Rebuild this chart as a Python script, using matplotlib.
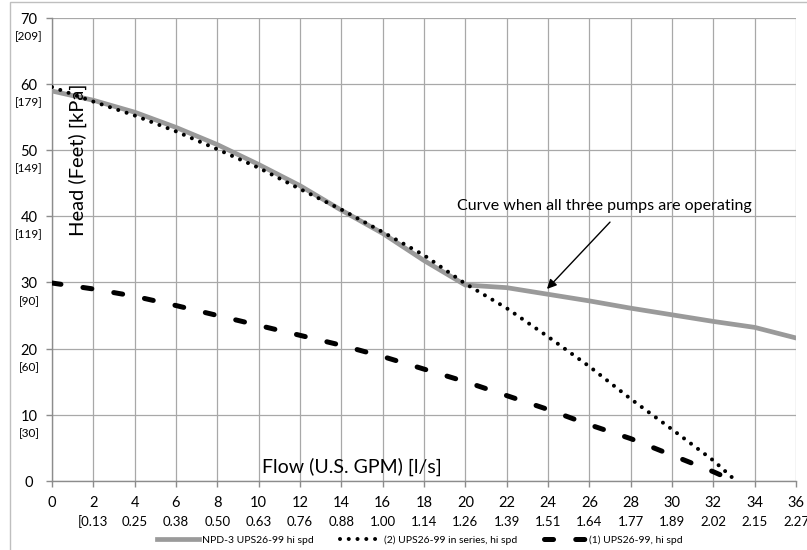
import matplotlib
matplotlib.use("Agg")
import matplotlib.pyplot as plt
from matplotlib.patches import Rectangle

plt.rcParams['font.family'] = ['Lato', 'DejaVu Sans']
plt.rcParams['lines.scale_dashes'] = False

# ---- data ----
flow_ticks = [0, 2, 4, 6, 8, 10, 12, 14, 16, 18, 20, 22, 24, 26, 28, 30, 32, 34, 36]
flow_ls_labels = ["", "[0.13", "0.25", "0.38", "0.50", "0.63", "0.76", "0.88", "1.00",
                  "1.14", "1.26", "1.39", "1.51", "1.64", "1.77", "1.89", "2.02", "2.15", "2.27"]
head_ticks = [0, 10, 20, 30, 40, 50, 60, 70]
head_kpa_labels = ["", "[30]", "[60]", "[90]", "[119]", "[149]", "[179]", "[209]"]

npd3_flow = [0, 2, 4, 6, 8, 10, 12, 14, 16, 18, 20, 22, 24, 26, 28, 30, 32, 34, 36]
npd3_head = [58.9, 57.5, 55.7, 53.4, 50.8, 47.8, 44.6, 40.9, 37.4, 33.3, 29.6,
             29.2, 28.2, 27.2, 26.1, 25.1, 24.1, 23.2, 21.6]

series2_flow = [0, 2, 4, 6, 8, 10, 12, 14, 16, 18, 20, 22, 24, 26, 28, 30, 32, 33.1]
series2_head = [59.5, 57.3, 55.2, 52.8, 50.1, 47.3, 44.1, 41.0, 37.6, 34.1, 29.8,
                26.1, 21.8, 17.3, 12.4, 7.8, 3.1, 0.0]

single_flow = [0, 2, 4, 6, 8, 10, 12, 14, 16, 18, 20, 22, 24, 26, 28, 30, 32, 33.0]
single_head = [29.9, 29.0, 27.9, 26.5, 25.0, 23.5, 22.0, 20.5, 18.8, 16.9, 15.0,
               12.9, 10.8, 8.5, 6.4, 3.9, 1.4, 0.0]

series_names = ["NPD-3 UPS26-99 hi spd", "(2) UPS26-99 in series, hi spd", "(1) UPS26-99, hi spd"]

# ---- figure ----
W, H = 807, 550
fig = plt.figure(figsize=(W / 100, H / 100), dpi=100)
ax = fig.add_axes([52 / W, 1 - 481 / H, (796 - 52) / W, (481 - 17.5) / H])

grid_c = '#a8a8a8'
ax.set_xlim(0, 36)
ax.set_ylim(0, 70)
ax.set_xticks(flow_ticks)
ax.set_yticks(head_ticks)
ax.set_xticklabels([])
ax.set_yticklabels([])
ax.grid(True, color=grid_c, linewidth=0.9)
ax.set_axisbelow(True)
for s in ['top', 'right']:
    ax.spines[s].set_visible(False)
for s in ['left', 'bottom']:
    ax.spines[s].set_color('#8c8c8c')
    ax.spines[s].set_linewidth(1.0)
ax.tick_params(axis='both', direction='out', length=4, color='#8c8c8c', width=1.0)

l1, = ax.plot(npd3_flow, npd3_head, color='#9a9a9a', linewidth=3.4,
              solid_joinstyle='miter', label=series_names[0], zorder=3)
l3, = ax.plot(single_flow, single_head, color='black', linewidth=3.6,
              dashes=(6.5, 16), dash_capstyle='round', label=series_names[2], zorder=4)
l2, = ax.plot(series2_flow, series2_head, color='black', linewidth=2.9,
              dashes=(0.01, 6.3), dash_capstyle='round', label=series_names[1], zorder=5)

# tick labels (two-row)
for x, lab in zip(flow_ticks, flow_ls_labels):
    ax.annotate(str(x), xy=(x, 0), xycoords=('data', 'axes fraction'),
                xytext=(0, -16), textcoords='offset points', ha='center', va='center',
                fontsize=10.5)
    if lab:
        ax.annotate(lab, xy=(x, 0), xycoords=('data', 'axes fraction'),
                    xytext=(0, -29.5), textcoords='offset points', ha='center', va='center',
                    fontsize=9.5)
for y, lab in zip(head_ticks, head_kpa_labels):
    ax.annotate(str(y), xy=(0, y), xycoords=('axes fraction', 'data'),
                xytext=(-16.5, -1.5), textcoords='offset points', ha='center', va='center',
                fontsize=10.5)
    if lab:
        ax.annotate(lab, xy=(0, y), xycoords=('axes fraction', 'data'),
                    xytext=(-16.5, -13.5), textcoords='offset points', ha='center', va='center',
                    fontsize=8.5)

# axis titles inside the plot
fig.text(78 / W, 1 - 160 / H, "Head (Feet) [kPa]", rotation=90, ha='center', va='center',
         fontsize=14.5)
fig.text(352 / W, 1 - 467 / H, "Flow (U.S. GPM) [l/s]", ha='center', va='center', fontsize=14)

# annotation
ax.annotate("", xy=(23.95, 29.0), xytext=(27.0, 39.1), textcoords='data',
            arrowprops=dict(arrowstyle='-|>', color='black', lw=1.0, mutation_scale=14,
                            shrinkA=0, shrinkB=0))
ax.text(26.75, 41.6, "Curve when all three pumps are operating", ha='center', va='center',
        fontsize=11.5)

# legend
fig.legend(handles=[l1, l2, l3], loc='center', bbox_to_anchor=(0.52, 0.018), ncol=3,
           frameon=False, fontsize=7.5, handlelength=4.0, columnspacing=2.5, handletextpad=0.3)

# outer chart border
fig.patches.append(Rectangle((10 / W, -0.02), 1.2, 1 - 2 / H + 0.02, transform=fig.transFigure,
                             fill=False, edgecolor='#bfbfbf', linewidth=1.0))

fig.savefig("out.png", dpi=100)
